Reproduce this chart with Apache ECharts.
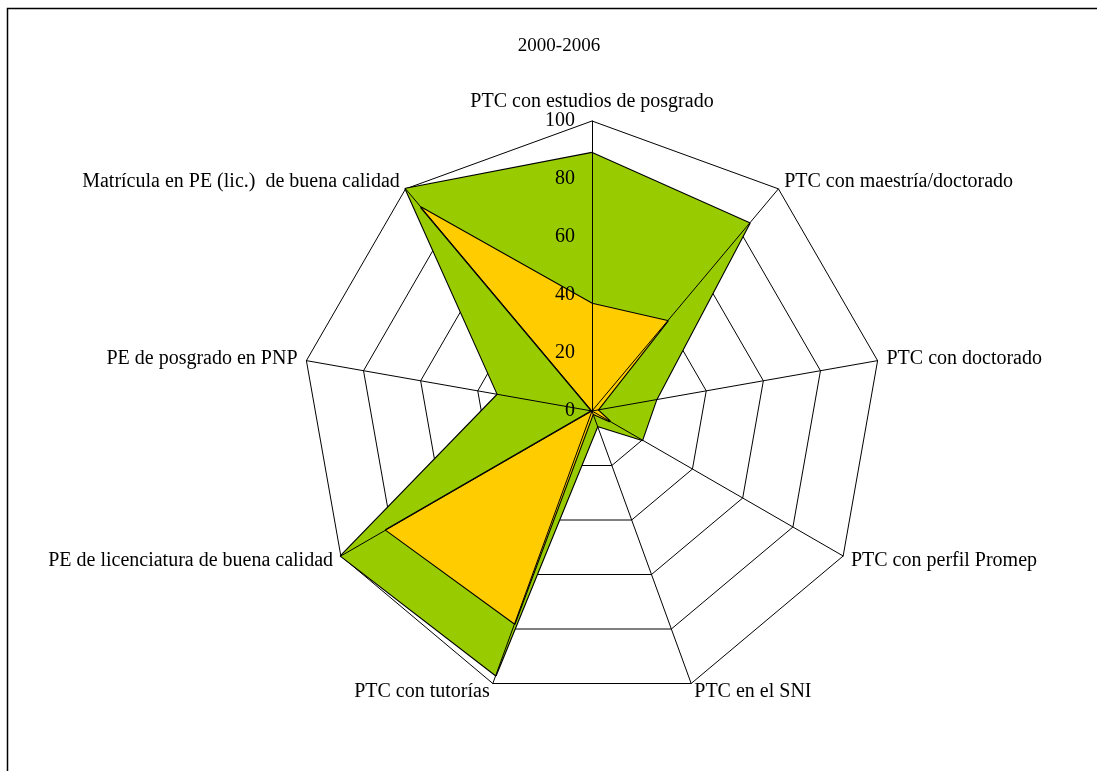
<!DOCTYPE html>
<html>
<head>
<meta charset="utf-8">
<script src="https://cdn.jsdelivr.net/npm/echarts@6/dist/echarts.min.js"></script>
<style>
  html, body { margin: 0; padding: 0; background: #ffffff; }
  #chart { width: 1097px; height: 771px; }
</style>
</head>
<body>
<div id="chart"></div>
<script>
// ejes del radar (en sentido horario desde arriba)
var indicadores = [
  "PTC con estudios de posgrado",
  "PTC con maestría/doctorado",
  "PTC con doctorado",
  "PTC con perfil Promep",
  "PTC en el SNI",
  "PTC con tutorías",
  "PE de licenciatura de buena calidad",
  "PE de posgrado en PNP",
  "Matrícula en PE (lic.)  de buena calidad"
];
// serie verde (exterior) y serie amarilla (interior)
var serieVerde = [89, 84.5, 22.5, 20, 5.5, 97, 100, 33, 100];
var serieAmarilla = [37, 40.5, 2, 7, 1, 78, 82, 0, 91.5];
var titulo = "2000-2006";

var fuente = "'Liberation Serif', 'DejaVu Serif', serif";
var centro = [592, 411];
var radio = 290;

// echarts dibuja el radar en sentido antihorario: se invierte el orden
// dejando el primer eje arriba
function horario(arr) {
  return [arr[0]].concat(arr.slice(1).reverse());
}

var chart = echarts.init(document.getElementById("chart"));

var option = {
  animation: false,
  backgroundColor: "#ffffff",
  title: {
    text: titulo,
    left: 554,
    top: 32,
    textAlign: "center",
    textStyle: { fontFamily: fuente, fontSize: 19, fontWeight: "normal", color: "#000" }
  },
  graphic: [{
    // marco del grafico (solo arriba e izquierda visibles)
    type: "rect",
    shape: { x: 7.5, y: 8.5, width: 1300, height: 1000 },
    style: { fill: null, stroke: "#000", lineWidth: 1.5 },
    silent: true
  }],
  radar: [
    {
      // anillos y nombres, debajo de las areas
      center: centro,
      radius: radio,
      startAngle: 90,
      shape: "polygon",
      splitNumber: 5,
      indicator: horario(indicadores).map(function (n) { return { name: n, min: 0, max: 100 }; }),
      axisName: { color: "#000", fontFamily: fuente, fontSize: 20 },
      nameGap: 9,
      splitLine: { lineStyle: { color: "#000", width: 1 } },
      splitArea: { show: false },
      axisLine: { show: false },
      axisTick: { show: false },
      axisLabel: { show: false }
    },
    {
      // radios y etiquetas de escala, encima de las areas
      center: centro,
      radius: radio,
      startAngle: 90,
      shape: "polygon",
      splitNumber: 5,
      z: 5,
      indicator: horario(indicadores).map(function (n, i) {
        var ind = { name: n, min: 0, max: 100 };
        if (i === 0) {
          ind.axisLabel = { show: true, color: "#000", fontFamily: fuente, fontSize: 20, margin: 17 };
        }
        return ind;
      }),
      axisName: { show: false },
      splitLine: { show: false },
      splitArea: { show: false },
      axisLine: { lineStyle: { color: "#000", width: 1 } },
      axisTick: { show: false },
      axisLabel: { show: false }
    }
  ],
  series: [{
    type: "radar",
    radarIndex: 0,
    symbol: "none",
    lineStyle: { color: "#000", width: 2.2 },
    data: [
      {
        value: horario(serieVerde),
        name: "verde",
        lineStyle: { color: "#000", width: 2.2 },
        areaStyle: { color: "#99CC00", opacity: 1 }
      },
      {
        value: horario(serieAmarilla),
        name: "amarilla",
        lineStyle: { color: "#000", width: 2.2 },
        areaStyle: { color: "#FFCC00", opacity: 1 }
      }
    ]
  }]
};

chart.setOption(option);
</script>
</body>
</html>
